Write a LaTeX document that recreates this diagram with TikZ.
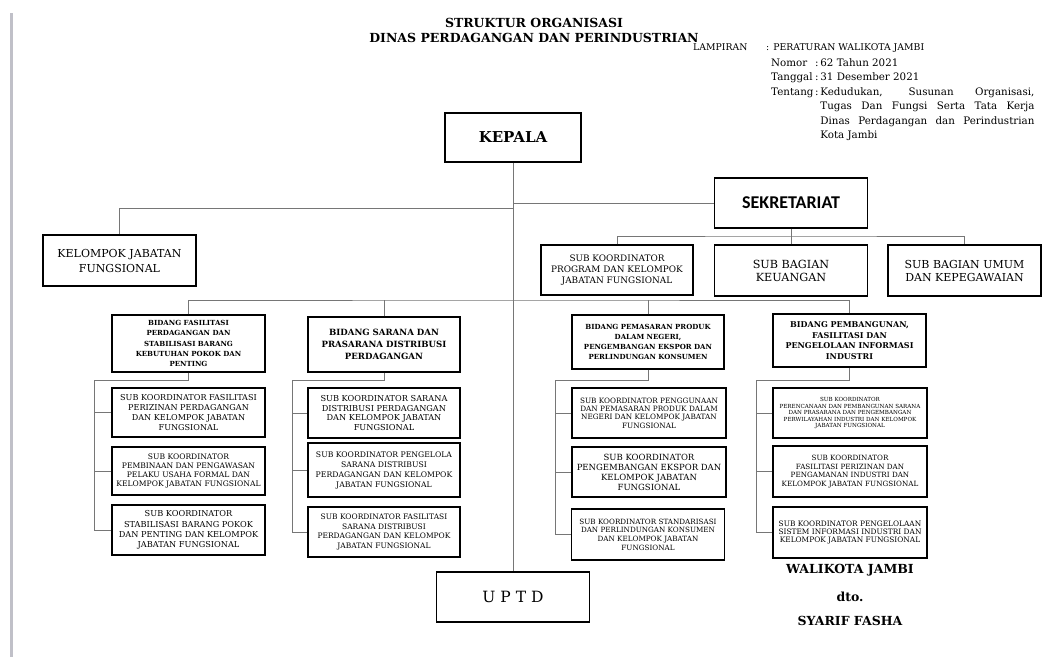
\documentclass[tikz,border=0pt]{standalone}
\usepackage{fontspec}
\setmainfont{DejaVu Serif}
\newfontfamily\calibrifont{Carlito}
\usepackage{tikz}
\usetikzlibrary{positioning}

\definecolor{linkgray}{RGB}{118,118,118}
\definecolor{bargray}{RGB}{192,192,200}
\newcommand{\boxfont}[2]{\fontsize{#1}{#2}\selectfont}

\begin{document}
\begin{tikzpicture}[x=1pt, y=-1pt,
    box/.style 2 args={draw, line width=1.1pt, align=center, inner sep=1pt,
        minimum width=#1, minimum height=#2},
    link/.style={draw=linkgray, line width=0.9pt}]
    \useasboundingbox (0,0) rectangle (1044,659);
    \fill[white] (0,0) rectangle (1044,659);
    \fill[bargray] (9.5,13) rectangle (12.5,657);

    % judul dan lampiran
    \node[font=\bfseries\boxfont{12.5}{15}, align=center] (judul) at (534,30.5)
        {STRUKTUR ORGANISASI\\DINAS PERDAGANGAN DAN PERINDUSTRIAN};
    \node[anchor=base west, inner sep=0, font=\boxfont{9.3}{14.5}] (lampiran) at (693,50)
        {\makebox[73pt][l]{LAMPIRAN}: PERATURAN WALIKOTA JAMBI};
    \node[anchor=base west, inner sep=0, font=\boxfont{10.3}{14.5}] (tentang) at (771,66)
        {\begin{tabular}[t]{@{}l@{\,}l@{\,}p{214pt}@{}}
            Nomor & : & 62 Tahun 2021\\
            Tanggal & : & 31 Desember 2021\\
            Tentang & : & Kedudukan, Susunan Organisasi,\linebreak
                Tugas Dan Fungsi Serta Tata Kerja\linebreak
                Dinas Perdagangan dan Perindustrian\linebreak
                Kota Jambi
        \end{tabular}};

    % pimpinan dan sekretariat
    \node[box={136pt}{49pt}, font=\bfseries\boxfont{15}{18}] (kepala) at (513,137.5) {KEPALA};
    \node[box={153pt}{50pt}, font=\calibrifont\bfseries\boxfont{18}{20}] (sekre) at (791,203) {SEKRETARIAT};
    \node[box={153pt}{51pt}, font=\boxfont{11}{15}] (kjf) at (119.5,260.5) {KELOMPOK JABATAN\\FUNGSIONAL};
    \node[box={152pt}{50pt}, font=\boxfont{8.9}{11}] (skp) at (617,270) {SUB KOORDINATOR\\PROGRAM DAN KELOMPOK\\JABATAN FUNGSIONAL};
    \node[box={153pt}{51pt}, font=\boxfont{11.2}{13}] (sbk) at (791,270.5) {SUB BAGIAN\\KEUANGAN};
    \node[box={153pt}{51pt}, font=\boxfont{11}{13}] (sbu) at (964.5,270.5) {SUB BAGIAN UMUM\\DAN KEPEGAWAIAN};

    % bidang
    \node[box={153pt}{57pt}, font=\bfseries\boxfont{7}{10.3}] (bid1) at (188.5,343.5)
        {BIDANG FASILITASI\\PERDAGANGAN DAN\\STABILISASI BARANG\\KEBUTUHAN POKOK DAN\\PENTING};
    \node[box={152pt}{55pt}, font=\bfseries\boxfont{8.6}{11.7}] (bid2) at (384,344.5)
        {BIDANG SARANA DAN\\PRASARANA DISTRIBUSI\\PERDAGANGAN};
    \node[box={152pt}{54pt}, font=\bfseries\boxfont{7}{10}] (bid3) at (648,342)
        {BIDANG PEMASARAN PRODUK\\DALAM NEGERI,\\PENGEMBANGAN EKSPOR DAN\\PERLINDUNGAN KONSUMEN};
    \node[box={153pt}{53pt}, font=\bfseries\boxfont{8}{10.7}] (bid4) at (849.5,340.5)
        {BIDANG PEMBANGUNAN,\\FASILITASI DAN\\PENGELOLAAN INFORMASI\\INDUSTRI};

    % sub koordinator
    \node[box={153pt}{49pt}, font=\boxfont{8.1}{9.7}] (s11) at (188.5,412.5)
        {SUB KOORDINATOR FASILITASI\\PERIZINAN PERDAGANGAN\\DAN KELOMPOK JABATAN\\FUNGSIONAL};
    \node[box={153pt}{48pt}, font=\boxfont{7.6}{9}] (s12) at (188.5,471)
        {SUB KOORDINATOR\\PEMBINAAN DAN PENGAWASAN\\PELAKU USAHA FORMAL DAN\\KELOMPOK JABATAN FUNGSIONAL};
    \node[box={153pt}{50pt}, font=\boxfont{8.2}{10.3}] (s13) at (188.5,530)
        {SUB KOORDINATOR\\STABILISASI BARANG POKOK\\DAN PENTING DAN KELOMPOK\\JABATAN FUNGSIONAL};
    \node[box={152pt}{50pt}, font=\boxfont{8.2}{9.7}] (s21) at (384,413)
        {SUB KOORDINATOR SARANA\\DISTRIBUSI PERDAGANGAN\\DAN KELOMPOK JABATAN\\FUNGSIONAL};
    \node[box={152pt}{54pt}, font=\boxfont{7.7}{10}] (s22) at (384,470)
        {SUB KOORDINATOR PENGELOLA\\SARANA DISTRIBUSI\\PERDAGANGAN DAN KELOMPOK\\JABATAN FUNGSIONAL};
    \node[box={152pt}{50pt}, font=\boxfont{7.5}{9.5}] (s23) at (384,532)
        {SUB KOORDINATOR FASILITASI\\SARANA DISTRIBUSI\\PERDAGANGAN DAN KELOMPOK\\JABATAN FUNGSIONAL};
    \node[box={154pt}{50pt}, font=\boxfont{7.3}{8.4}] (s31) at (649,413)
        {SUB KOORDINATOR PENGGUNAAN\\DAN PEMASARAN PRODUK DALAM\\NEGERI DAN KELOMPOK JABATAN\\FUNGSIONAL};
    \node[box={154pt}{50pt}, font=\boxfont{8.5}{10}] (s32) at (649,472)
        {SUB KOORDINATOR\\PENGEMBANGAN EKSPOR DAN\\KELOMPOK JABATAN\\FUNGSIONAL};
    \node[box={153pt}{51pt}, font=\boxfont{7.2}{8.7}] (s33) at (648,534.5)
        {SUB KOORDINATOR STANDARISASI\\DAN PERLINDUNGAN KONSUMEN\\DAN KELOMPOK JABATAN\\FUNGSIONAL};
    \node[box={154pt}{50pt}, font=\boxfont{5.6}{6.5}] (s41) at (850,413)
        {SUB KOORDINATOR\\PERENCANAAN DAN PEMBANGUNAN SARANA\\DAN PRASARANA DAN PENGEMBANGAN\\PERWILAYAHAN INDUSTRI DAN KELOMPOK\\JABATAN FUNGSIONAL};
    \node[box={154pt}{51pt}, font=\boxfont{7.2}{8.8}] (s42) at (850,471.5)
        {SUB KOORDINATOR\\FASILITASI PERIZINAN DAN\\PENGAMANAN INDUSTRI DAN\\KELOMPOK JABATAN FUNGSIONAL};
    \node[box={154pt}{51pt}, font=\boxfont{7.4}{8.3}] (s43) at (850,532.5)
        {SUB KOORDINATOR PENGELOLAAN\\SISTEM INFORMASI INDUSTRI DAN\\KELOMPOK JABATAN FUNGSIONAL};

    \node[box={153pt}{50pt}, font=\boxfont{15.5}{18}] (uptd) at (513,597) {U P T D};

    % pengesahan
    \node[font=\bfseries\boxfont{12.5}{15}] (walikota) at (850,570) {WALIKOTA JAMBI};
    \node[font=\bfseries\boxfont{12.5}{15}, below=9pt of walikota] (dto) {dto.};
    \node[font=\bfseries\boxfont{12.5}{15}, below=7pt of dto] (syarif) {SYARIF FASHA};

    % garis
    \coordinate (kjfbus) at (513,208);
    \coordinate (sekbus) at (791,236);
    \coordinate (bidbus) at (513,300);
    \draw[link] (kepala) -- (uptd);
    \draw[link] (kepala.south |- sekre.west) -- (sekre.west);
    \draw[link] (kjfbus) -| (kjf.north);
    \draw[link] (sekre) -- (sekbus);
    \draw[link] (skp.north) |- (sekbus) -| (sbu.north);
    \draw[link] (sbk) -- (sekbus);
    \draw[link] (bid1.north) |- (bidbus) -| (bid4.north);
    \draw[link] (bid2.north) -- (bid2.north |- bidbus);
    \draw[link] (bid3.north) -- (bid3.north |- bidbus);
    \foreach \b/\x in {1/94, 2/292, 3/555, 4/756} {
        \coordinate (tap\b) at (\x,380);
        \draw[link] (bid\b.south) |- (tap\b) |- (s\b3.west);
        \draw[link] (tap\b |- s\b1.west) -- (s\b1.west);
        \draw[link] (tap\b |- s\b2.west) -- (s\b2.west);
    }
\end{tikzpicture}
\end{document}
